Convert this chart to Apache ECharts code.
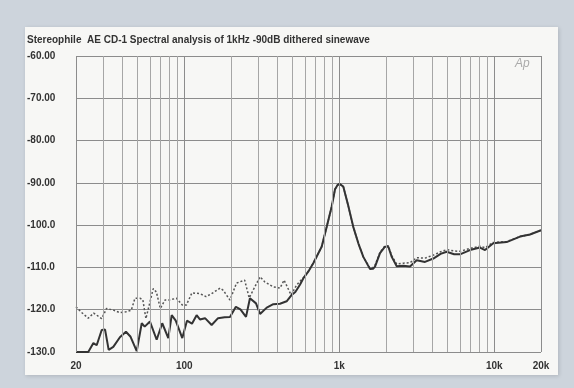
<!DOCTYPE html>
<html lang="en">
<head>
    <meta charset="UTF-8">
    <title>AE CD-1 spectral analysis</title>
    <script src="https://cdn.jsdelivr.net/npm/echarts@6/dist/echarts.min.js"></script>
</head>
<style>
    body {
        margin: 0;
        padding: 0;
        background: #cdd4dc;
    }
</style>
<body>
<div id="main" style="width: 574px;height: 388px;"></div>

<script>
    // 数据：频率(Hz) 与 电平(dB)
    var solidFreq = [20, 22, 24, 25.9, 27.2, 29.3, 30.8, 32.5, 34.8, 38.4, 42, 45, 49.3, 53.1, 55.5, 60, 66.3, 72, 78.8, 82.9,
        88, 97, 104, 112, 120, 126, 136, 150, 165, 182, 197, 215, 230, 250, 265, 290, 308, 340, 375, 414,
        457, 490, 520, 557, 585, 630, 679, 769, 829, 893, 938, 970, 1000, 1030, 1061, 1143, 1230, 1326, 1428, 1578,
        1650, 1699, 1830, 1970, 2070, 2178, 2345, 2588, 2857, 3155, 3570, 4038, 4500, 4928, 5500, 6000, 6966, 8078, 8706, 9842,
        12000, 14640, 16980, 20000];
    var solidDb = [-130, -130, -130, -127.9, -128.4, -124.8, -124.7, -129.5, -128.8, -126.5, -125.2, -126.4, -129.8, -123.2, -124, -122.8, -127.1, -123.2, -126.7, -121.3,
        -122.6, -126.7, -122.6, -123.3, -121.3, -122.3, -122, -123.6, -122, -121.8, -121.7, -119.3, -119.9, -121.7, -117.3, -118.5, -121, -119.5, -118.7, -118.6,
        -118, -116.6, -115.8, -114.1, -112.6, -111, -109, -105.1, -100.4, -95.6, -91.5, -90.6, -90.2, -90.6, -90.9, -95.5, -100.4, -104.3, -107.5, -110.4,
        -110.3, -109.8, -106.6, -105.1, -105.1, -107.5, -109.7, -109.6, -109.8, -108.3, -108.7, -107.9, -106.8, -106.3, -106.9, -106.9, -105.9, -105.3, -105.9, -104.3,
        -104, -102.7, -102.2, -101.2];

    var dotFreq = [20, 21.5, 24, 26, 29.3, 31.5, 34.8, 38.4, 42, 45.5, 48, 52, 54, 56.5, 59, 63, 66, 70, 75, 80,
        89, 97, 103, 112, 126, 138, 150, 170, 178, 197, 217, 245, 262, 308, 330, 375, 414, 440, 488, 530,
        557, 585, 630, 679, 769, 829, 893, 938, 970, 1000, 1030, 1061, 1143, 1230, 1326, 1428, 1578, 1650, 1699, 1830,
        1970, 2070, 2178, 2345, 2588, 2857, 3155, 3570, 4038, 4500, 4928, 5500, 6000, 6966, 8078, 8706, 9842, 12000, 14640, 16980,
        20000];
    var dotDb = [-119.3, -120.5, -122, -120.8, -122.1, -119.7, -120.1, -120.7, -120.5, -120.1, -117.3, -117.3, -117.7, -122.1, -119.3, -115, -115.8, -119.7, -117.7, -117.7,
        -117.3, -118.9, -118.9, -116, -116.2, -116.9, -116.2, -114.9, -115.4, -117.7, -113.7, -113, -117.2, -112.2, -113.4, -114.6, -114.9, -113, -116.5, -114.2,
        -113.3, -112.5, -110.9, -109, -105.1, -100.4, -95.6, -91.5, -90.6, -90.2, -90.6, -90.9, -95.5, -100.4, -104.3, -107.5, -110.2, -110, -109.5, -106.4,
        -104.9, -104.9, -107.2, -109.2, -109, -108.9, -107.7, -107.8, -107.1, -106.3, -105.8, -106.1, -106.2, -105.5, -105, -105.3, -104.1, -103.9, -102.7, -102.2,
        -101.2];

    // 竖向网格线所在频率
    var gridFreqs = [20, 30, 40, 50, 60, 70, 80, 90, 100, 200, 300, 400, 500, 600, 700, 800, 900,
        1000, 2000, 3000, 4000, 5000, 6000, 7000, 8000, 9000, 10000, 20000];
    var xLabels = {20: '20', 100: '100', 1000: '1k', 10000: '10k', 20000: '20k'};
    var yLabels = {'-60': '-60.00', '-70': '-70.00', '-80': '-80.00', '-90': '-90.00',
        '-100': '-100.0', '-110': '-110.0', '-120': '-120.0', '-130': '-130.0'};

    function pairs(xs, ys) {
        var out = [];
        for (var i = 0; i < xs.length; i++) out.push([xs[i], ys[i]]);
        return out;
    }

    var myChart = echarts.init(document.getElementById('main'));
    var fontFam = '"Liberation Sans", Arial, sans-serif';

    var option = {
        backgroundColor: '#cdd4dc',
        animation: false,
        graphic: [
            {
                type: 'rect', z: -10,
                shape: {x: 25, y: 27, width: 533, height: 348},
                style: {fill: '#f7f7f5', shadowBlur: 4, shadowColor: 'rgba(0,0,0,0.15)', shadowOffsetX: 1, shadowOffsetY: 1}
            },
            {
                type: 'text', left: 27, top: 35,
                style: {
                    text: 'Stereophile  AE CD-1 Spectral analysis of 1kHz -90dB dithered sinewave',
                    font: 'bold 10px ' + fontFam, fill: '#333'
                }
            },
            {
                type: 'text', left: 515, top: 58,
                style: {text: 'Ap', font: 'italic 12px ' + fontFam, fill: '#aaa'}
            }
        ],
        grid: {left: 76, right: 33, top: 56, bottom: 36},
        xAxis: {
            type: 'log',
            logBase: 10,
            min: 20,
            max: 20000,
            axisLine: {show: false},
            axisTick: {show: false},
            splitLine: {show: false},
            axisLabel: {
                margin: 9,
                showMinLabel: true,
                showMaxLabel: true,
                fontFamily: fontFam, fontWeight: 'bold', fontSize: 10, color: '#333',
                formatter: function (v) {
                    return xLabels[Math.round(v)] || '';
                }
            }
        },
        yAxis: {
            type: 'value',
            min: -130,
            max: -60,
            interval: 10,
            axisLine: {show: false},
            axisTick: {show: false},
            splitLine: {lineStyle: {color: '#8c8c8c', width: 1}},
            axisLabel: {
                align: 'left',
                margin: 49,
                fontFamily: fontFam, fontWeight: 'bold', fontSize: 10, color: '#333',
                formatter: function (v) {
                    return yLabels[String(Math.round(v))] || '';
                }
            }
        },
        series: [
            {
                // 竖向网格
                type: 'line',
                z: 1,
                silent: true,
                data: [[20, -130]],
                symbol: 'none',
                lineStyle: {opacity: 0},
                markLine: {
                    silent: true,
                    symbol: 'none',
                    label: {show: false},
                    animation: false,
                    data: gridFreqs.map(function (f) {
                        var major = (f === 20 || f === 100 || f === 1000 || f === 10000 || f === 20000);
                        return {xAxis: f, lineStyle: {color: major ? '#8c8c8c' : '#a6a6a6', width: 1, type: 'solid'}};
                    })
                }
            },
            {
                name: 'dotted',
                type: 'line',
                z: 3,
                data: pairs(dotFreq, dotDb),
                symbol: 'none',
                lineStyle: {color: '#555', width: 1.5, type: [2, 2]}
            },
            {
                name: 'solid',
                type: 'line',
                z: 4,
                data: pairs(solidFreq, solidDb),
                symbol: 'none',
                lineStyle: {color: '#333', width: 2}
            }
        ]
    };
    myChart.setOption(option);
</script>
</body>
</html>
